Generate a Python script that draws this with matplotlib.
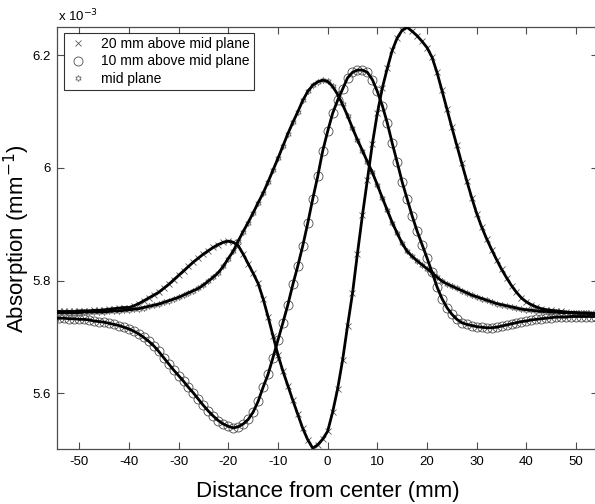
import numpy as np
import matplotlib
matplotlib.use('Agg')
import matplotlib.pyplot as plt

plt.rcParams['font.family'] = ['Liberation Sans', 'DejaVu Sans']

# distance from center, mm (1 mm step)
dist = list(range(-55, 56))

# absorption values, in units of 1e-3 mm^-1
above_20mm = [
    5.745, 5.745, 5.745, 5.745, 5.745, 5.746, 5.746, 5.746, 5.747, 5.747,
    5.748, 5.749, 5.750, 5.751, 5.752, 5.752, 5.755, 5.759, 5.764, 5.769,
    5.774, 5.779, 5.786, 5.793, 5.801, 5.809, 5.817, 5.825, 5.833, 5.840,
    5.847, 5.853, 5.859, 5.864, 5.868, 5.870, 5.868, 5.862, 5.847, 5.830,
    5.813, 5.795, 5.768, 5.736, 5.702, 5.668, 5.639, 5.613, 5.587, 5.562,
    5.537, 5.517, 5.502, 5.508, 5.518, 5.532, 5.566, 5.607, 5.658, 5.719,
    5.777, 5.848, 5.916, 5.979, 6.043, 6.097, 6.142, 6.177, 6.209, 6.231,
    6.245, 6.250, 6.243, 6.235, 6.225, 6.214, 6.197, 6.170, 6.138, 6.105,
    6.072, 6.040, 6.008, 5.977, 5.947, 5.919, 5.895, 5.874, 5.855, 5.837,
    5.820, 5.805, 5.791, 5.779, 5.769, 5.762, 5.757, 5.753, 5.750, 5.748,
    5.747, 5.746, 5.745, 5.744, 5.743, 5.743, 5.742, 5.742, 5.742, 5.741,
    5.741]

above_10mm = [
    5.733, 5.733, 5.733, 5.732, 5.732, 5.731, 5.731, 5.730, 5.728, 5.727,
    5.726, 5.724, 5.722, 5.720, 5.717, 5.714, 5.710, 5.705, 5.699, 5.692,
    5.684, 5.674, 5.663, 5.652, 5.641, 5.631, 5.621, 5.610, 5.600, 5.589,
    5.578, 5.568, 5.559, 5.551, 5.545, 5.541, 5.538, 5.540, 5.545, 5.553,
    5.566, 5.585, 5.610, 5.633, 5.663, 5.694, 5.725, 5.757, 5.793, 5.826,
    5.862, 5.902, 5.945, 5.985, 6.030, 6.065, 6.097, 6.120, 6.140, 6.160,
    6.170, 6.174, 6.174, 6.170, 6.157, 6.136, 6.111, 6.080, 6.044, 6.010,
    5.975, 5.945, 5.915, 5.888, 5.864, 5.840, 5.815, 5.789, 5.768, 5.752,
    5.740, 5.731, 5.725, 5.722, 5.720, 5.718, 5.717, 5.716, 5.716, 5.717,
    5.719, 5.721, 5.723, 5.725, 5.727, 5.728, 5.730, 5.731, 5.732, 5.733,
    5.734, 5.735, 5.735, 5.735, 5.736, 5.736, 5.736, 5.736, 5.736, 5.736,
    5.736]

mid_plane = [
    5.743, 5.743, 5.743, 5.743, 5.743, 5.743, 5.744, 5.744, 5.744, 5.744,
    5.744, 5.745, 5.746, 5.746, 5.747, 5.748, 5.749, 5.750, 5.752, 5.754,
    5.756, 5.758, 5.761, 5.764, 5.767, 5.770, 5.774, 5.778, 5.782, 5.786,
    5.792, 5.799, 5.806, 5.814, 5.825, 5.839, 5.852, 5.870, 5.887, 5.903,
    5.920, 5.938, 5.955, 5.975, 5.996, 6.017, 6.039, 6.061, 6.081, 6.100,
    6.120, 6.136, 6.147, 6.153, 6.156, 6.154, 6.145, 6.131, 6.113, 6.093,
    6.071, 6.050, 6.031, 6.011, 5.992, 5.970, 5.947, 5.925, 5.903, 5.884,
    5.866, 5.852, 5.843, 5.835, 5.828, 5.821, 5.814, 5.806, 5.799, 5.794,
    5.790, 5.786, 5.782, 5.778, 5.774, 5.771, 5.768, 5.765, 5.762, 5.759,
    5.757, 5.755, 5.753, 5.751, 5.749, 5.748, 5.747, 5.746, 5.745, 5.745,
    5.744, 5.744, 5.743, 5.743, 5.743, 5.742, 5.742, 5.742, 5.741, 5.741,
    5.741]

labels = ['20 mm above mid plane', '10 mm above mid plane', 'mid plane']
xticks = [-50, -40, -30, -20, -10, 0, 10, 20, 30, 40, 50]
yticks = [5.6, 5.8, 6.0, 6.2]
ytick_labels = ['5.6', '5.8', '6', '6.2']

fig = plt.figure(figsize=(5.95, 5.04), dpi=100)
ax = fig.add_axes([0.0963, 0.1085, 0.9087, 0.8373])

x = np.array(dist)
series = [np.array(above_20mm), np.array(above_10mm), np.array(mid_plane)]
styles = [
    dict(marker='x', ms=4, mec='0.35', mew=0.6),
    dict(marker='o', ms=6.5, mfc='none', mec='0.3', mew=0.6),
    dict(marker=(6, 1, 0), ms=4.5, mfc='none', mec='0.35', mew=0.5),
]

# markers first, then the fitted black line on top
for y, st, lab in zip(series, styles, labels):
    ax.plot(x, y, linestyle='none', label=lab, zorder=2, **st)
for y in series:
    ax.plot(x, y, color='black', lw=2.0, zorder=3)

ax.set_xlim(-54.4, 54.4)
ax.set_ylim(5.5, 6.25)
ax.set_xticks(xticks)
ax.set_xticklabels([str(t) for t in xticks])
ax.set_yticks(yticks)
ax.set_yticklabels(ytick_labels)
ax.tick_params(direction='in', length=5, width=0.8, color='0.3',
               top=True, right=True, labelsize=9.5, pad=5)
for sp in ax.spines.values():
    sp.set_color('0.3')
    sp.set_linewidth(0.9)

ax.set_xlabel('Distance from center (mm)', fontsize=16, labelpad=9)
ax.set_ylabel('Absorption (mm$^{-1}$)', fontsize=16, labelpad=0)
fig.text(0.097, 0.958, r'x 10$^{-3}$', fontsize=9.5, ha='left', va='baseline')

leg = ax.legend(loc='upper left', bbox_to_anchor=(0.012, 0.987),
                borderaxespad=0, fancybox=False, numpoints=1,
                handlelength=1.4, handletextpad=1.0, labelspacing=0.25,
                fontsize=10, borderpad=0.3)
leg.get_frame().set_edgecolor('black')
leg.get_frame().set_linewidth(0.8)

fig.savefig('out.png', dpi=100)
